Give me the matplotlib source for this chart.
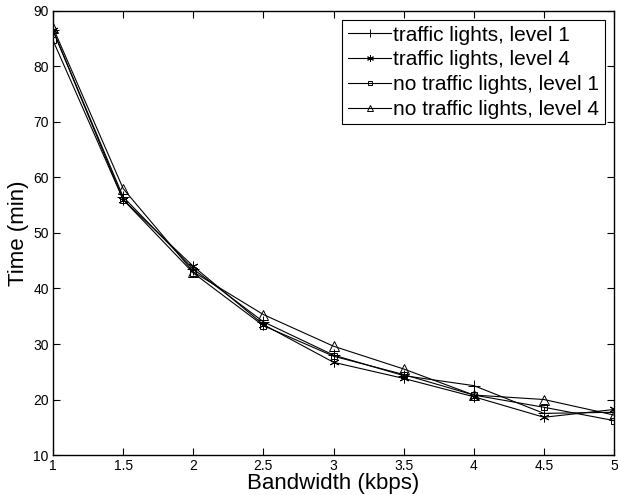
import numpy as np
import matplotlib.pyplot as plt

plt.rcParams['font.family'] = ['Liberation Sans', 'DejaVu Sans']

# полоса пропускания, кбит/с
bandwidth = [1, 1.5, 2, 2.5, 3, 3.5, 4, 4.5, 5]
# время, мин
tl_level1 = [86.5, 56.5, 43.5, 34.0, 28.0, 24.3, 22.5, 17.5, 17.7]
tl_level4 = [86.5, 56.0, 44.0, 33.5, 26.7, 23.8, 20.5, 16.8, 18.2]
notl_level1 = [84.7, 56.0, 42.8, 33.3, 27.8, 24.5, 20.8, 18.6, 16.2]
notl_level4 = [87.0, 58.0, 43.0, 35.3, 29.6, 25.5, 20.8, 20.0, 17.2]

labels = ['traffic lights, level 1', 'traffic lights, level 4',
          'no traffic lights, level 1', 'no traffic lights, level 4']
# '*' в стиле MATLAB - шестилучевая звёздочка
markers = ['+', (6, 2, 0), 's', '^']
sizes = [8, 7, 5, 7]

fig = plt.figure(figsize=(6.18, 4.95), dpi=100)
ax = fig.add_axes([0.0858, 0.0808, 0.9078, 0.897])
for y, lab, m, s in zip([tl_level1, tl_level4, notl_level1, notl_level4], labels, markers, sizes):
    ax.plot(bandwidth, y, color='black', linewidth=0.8, marker=m, markersize=s,
            markerfacecolor='none', markeredgewidth=0.7, label=lab)

ax.set_xlim(1, 5)
ax.set_ylim(10, 90)
ax.set_xticks([1, 1.5, 2, 2.5, 3, 3.5, 4, 4.5, 5])
ax.set_xticklabels(['1', '1.5', '2', '2.5', '3', '3.5', '4', '4.5', '5'])
ax.set_yticks(np.arange(10, 91, 10))
ax.tick_params(direction='in', top=True, right=True, labelsize=10, length=5, pad=3)
ax.set_xlabel('Bandwidth (kbps)', fontsize=16, labelpad=0)
ax.set_ylabel('Time (min)', fontsize=16, labelpad=3)
for sp in ax.spines.values():
    sp.set_linewidth(1.0)
leg = ax.legend(loc='upper right', fontsize=15, fancybox=False, edgecolor='black',
                framealpha=1, handlelength=2.1, handletextpad=0.1, borderpad=0.25,
                labelspacing=0.28, borderaxespad=0.45, markerscale=0.7)
leg.get_frame().set_linewidth(0.8)

plt.savefig('out.png', dpi=100)
